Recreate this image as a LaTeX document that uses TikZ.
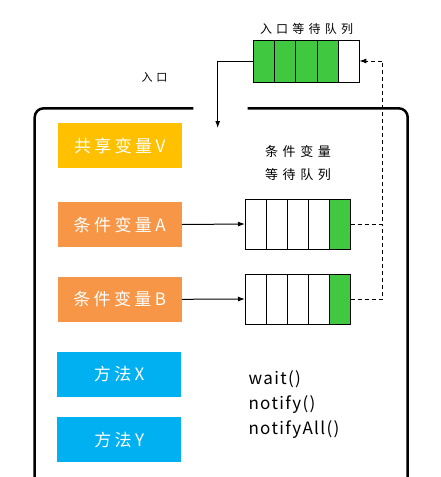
\documentclass[tikz,border=0pt]{standalone}
\usepackage{fontspec}
\setmainfont{Noto Sans CJK SC}
\newfontfamily\boxfont[LetterSpace=20]{Noto Sans CJK SC}
\newfontfamily\tagfont[LetterSpace=35]{Noto Sans CJK SC}
\newfontfamily\callfont[LetterSpace=8]{Noto Sans CJK SC}
\usepackage{tikz}
\usetikzlibrary{calc,arrows.meta}
\definecolor{varyellow}{HTML}{FFC000}
\definecolor{condorange}{HTML}{F79646}
\definecolor{methodblue}{HTML}{00B0F0}
\definecolor{slotgreen}{HTML}{40C840}
\tikzset{
	varbox/.style={minimum width=124pt, minimum height=44.5pt, inner sep=0pt, text=white, font={\boxfont\fontsize{17}{17}\selectfont}},
	slot/.style={draw, line width=0.8pt, minimum width=21.2pt, minimum height=#1, inner sep=0pt, outer sep=0pt},
	slot/.default=50pt,
	flow/.style={line width=1pt, -{Latex[length=7pt,width=5pt]}},
	back/.style={flow, dash pattern=on 4pt off 3pt},
}

\begin{document}
\begin{tikzpicture}[x=1pt, y=-1pt]
		%%%%% START %%%%%
		\useasboundingbox (0,0) rectangle (441,477);
		
		% monitor frame, open at the entry
		\draw[line width=2.5pt, rounded corners=9pt] (34.7,495) -- (34.7,108.3) -- (193.3,108.3);
		\draw[line width=2.5pt, rounded corners=9pt] (247.7,108.3) -- (407.7,108.3) -- (407.7,495);
		
		\node[varbox, fill=varyellow] (shared) at (119.7,145.7) {共享变量V};
		\node[varbox, fill=condorange] (condA) at (119.7,224.5) {条件变量A};
		\node[varbox, fill=condorange] (condB) at (119.7,299.3) {条件变量B};
		\node[varbox, fill=methodblue] (methX) at (119.2,374.5) {方法X};
		\node[varbox, fill=methodblue] (methY) at (119.2,439.7) {方法Y};
		
		% entry queue
		\node[slot=42pt, fill=slotgreen] (ent1) at (263.9,61) {};
		\node[slot=42pt, fill=slotgreen] (ent2) at (285.1,61) {};
		\node[slot=42pt, fill=slotgreen] (ent3) at (306.3,61) {};
		\node[slot=42pt, fill=slotgreen] (ent4) at (327.5,61) {};
		\node[slot=42pt, fill=white] (ent5) at (348.7,61) {};
		
		% condition queues
		\node[slot] (a1) at (255.6,224) {};
		\node[slot] (a2) at (276.7,224) {};
		\node[slot] (a3) at (297.8,224) {};
		\node[slot] (a4) at (318.9,224) {};
		\node[slot, fill=slotgreen] (a5) at (340.0,224) {};
		
		\node[slot] (b1) at (255.6,299) {};
		\node[slot] (b2) at (276.7,299) {};
		\node[slot] (b3) at (297.8,299) {};
		\node[slot] (b4) at (318.9,299) {};
		\node[slot, fill=slotgreen] (b5) at (340.0,299) {};
		
		\node[font={\tagfont\fontsize{12}{12}\selectfont}] (entqlabel) at (306.5,29) {入口等待队列};
		\node[font={\tagfont\fontsize{11}{11}\selectfont}] (entlabel) at (154.5,77) {入口};
		\node[font={\tagfont\fontsize{13}{23}\selectfont}, align=center] (condlabel) at (298,163) {条件变量\\等待队列};
		\node[font={\callfont\fontsize{17}{25}\selectfont}, align=left, anchor=west] (calls) at (245,405) {wait()\\notify()\\notifyAll()};
		
		\coordinate (door) at (217.7,128);
		\coordinate (riser) at (382.7,61);
		\coordinate (join) at (382.7,224);
		
		\draw[flow] (ent1.west) -| (door);
		\draw[flow] (condA.east) -- (a1.west);
		\draw[flow] (condB.east) -- (b1.west);
		\draw[back] (a5.east) -| (riser) -- (ent5.east);
		\draw[back, -] (b5.east) -| (join);
		
		%%%%% END %%%%%
	\end{tikzpicture}
\end{document}
